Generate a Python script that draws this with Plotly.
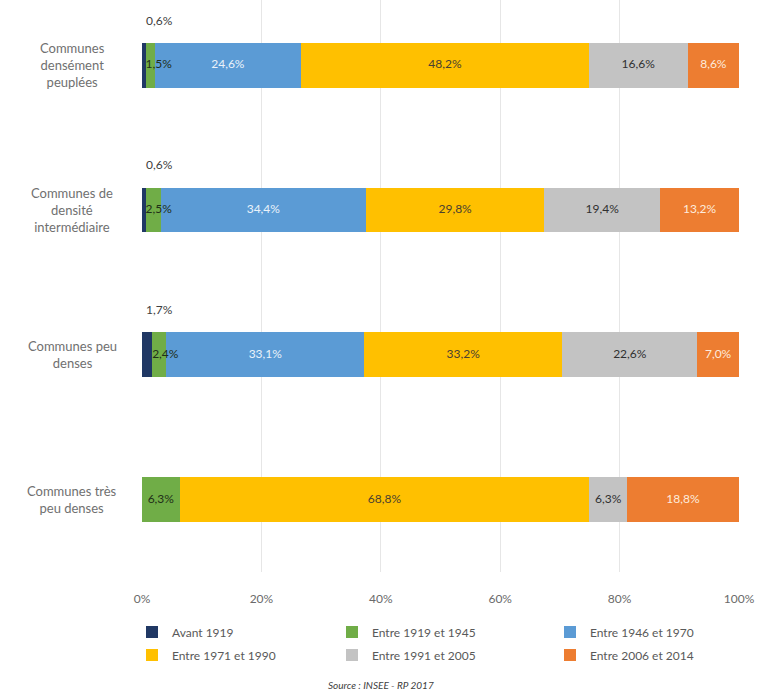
import plotly.graph_objects as go

categories = [
    "Communes<br>densément<br>peuplées",
    "Communes de<br>densité<br>intermédiaire",
    "Communes peu<br>denses",
    "Communes très<br>peu denses",
]
series_names = ["Avant 1919", "Entre 1919 et 1945", "Entre 1946 et 1970",
                "Entre 1971 et 1990", "Entre 1991 et 2005", "Entre 2006 et 2014"]
avant_1919 = [0.6, 0.6, 1.7, 0.0]
e1919_1945 = [1.5, 2.5, 2.4, 6.3]
e1946_1970 = [24.6, 34.4, 33.1, 0.0]
e1971_1990 = [48.2, 29.8, 33.2, 68.8]
e1991_2005 = [16.6, 19.4, 22.6, 6.3]
e2006_2014 = [8.6, 13.2, 7.0, 18.8]
x_ticks = [0, 20, 40, 60, 80, 100]
x_tick_labels = ["0%", "20%", "40%", "60%", "80%", "100%"]
source_text = "Source : INSEE - RP 2017"

values = [avant_1919, e1919_1945, e1946_1970, e1971_1990, e1991_2005, e2006_2014]
colors = ["#203864", "#70AD47", "#5B9BD5", "#FFC000", "#C3C3C3", "#ED7D31"]
text_colors = ["#262626", "#1F2F18", "#EAF2FA", "#4A4030", "#303030", "#FDEBDD"]

FONT = "Lato, 'Liberation Sans', sans-serif"
W, H = 759, 693

def fmt(v):
    return f"{v:.1f}".replace(".", ",") + "%"

cat_idx = list(range(len(categories)))
totals = [sum(v[c] for v in values) for c in cat_idx]

# legend layout: 3 columns x 2 rows (pixel positions of entry text start / row centre)
legend_text_x = [172, 372, 590]
legend_row_y = [632, 655]
legend_names = ["legend"] + [f"legend{k}" for k in range(2, 7)]

fig = go.Figure()
for i, (name, vals) in enumerate(zip(series_names, values)):
    fig.add_trace(go.Bar(
        name=name, y=cat_idx, x=vals, orientation="h",
        marker=dict(color=colors[i], line=dict(width=0)),
        width=0.31, hoverinfo="skip",
        legend=legend_names[i],
    ))

# Data labels drawn on top of all bars
cum = [0.0] * len(cat_idx)
for i, vals in enumerate(values):
    xs, ys, ts, pos = [], [], [], []
    for c in cat_idx:
        start = cum[c] / totals[c] * 100
        share = vals[c] / totals[c] * 100
        cum[c] += vals[c]
        if i == 0 or vals[c] <= 0:
            continue
        if share < 4:
            xs.append(start)
            pos.append("middle right")
        else:
            xs.append(start + share / 2)
            pos.append("middle center")
        ys.append(c)
        ts.append(fmt(vals[c]))
    if xs:
        fig.add_trace(go.Scatter(
            x=xs, y=ys, text=ts, mode="text", textposition=pos,
            textfont=dict(color=text_colors[i], size=12, family=FONT),
            showlegend=False, hoverinfo="skip", cliponaxis=False,
        ))

annotations = []
for c, v in zip(cat_idx, avant_1919):
    if v > 0:
        annotations.append(dict(x=0, y=c, xref="x", yref="y", text=fmt(v),
                                showarrow=False, xanchor="left", yanchor="middle",
                                xshift=2, yshift=45,
                                font=dict(size=12, color="#404040", family=FONT)))
for c, lab in zip(cat_idx, categories):
    annotations.append(dict(x=-0.117, y=c, xref="paper", yref="y", text=lab,
                            showarrow=False, xanchor="center", yanchor="middle",
                            align="center",
                            font=dict(size=13, color="#707070", family=FONT)))
annotations.append(dict(x=0.4, y=-0.197, xref="paper", yref="paper",
                        text="<i>" + source_text + "</i>", showarrow=False,
                        xanchor="center", yanchor="middle",
                        font=dict(size=10, color="#404040", family=FONT)))

legends = {}
for i, lname in enumerate(legend_names):
    col, row = i % 3, i // 3
    legends[lname] = dict(
        xref="container", yref="container",
        x=(legend_text_x[col] - 40) / W, y=1 - legend_row_y[row] / H,
        xanchor="left", yanchor="middle", orientation="h",
        font=dict(size=12, color="#595959", family=FONT),
        bgcolor="rgba(0,0,0,0)", borderwidth=0,
    )

fig.update_layout(
    width=W, height=H,
    barmode="stack", barnorm="percent",
    plot_bgcolor="white", paper_bgcolor="white",
    margin=dict(l=142, r=20, t=0, b=121),
    font=dict(family=FONT, color="#595959"),
    xaxis=dict(range=[0, 100], tickvals=x_ticks, ticktext=x_tick_labels,
               showgrid=True, gridcolor="#E6E6E6", gridwidth=1,
               zeroline=False, showline=False, ticks="", ticklabelstandoff=18,
               tickfont=dict(size=12, color="#6A6A6A"), fixedrange=True),
    yaxis=dict(range=[3.5, -0.45], showticklabels=False, showgrid=False,
               zeroline=False, showline=False, ticks="", fixedrange=True),
    annotations=annotations,
    showlegend=True,
    **legends,
)

fig.write_html("out.html", config={"displayModeBar": False},
               post_script="document.body.style.margin='0';")
